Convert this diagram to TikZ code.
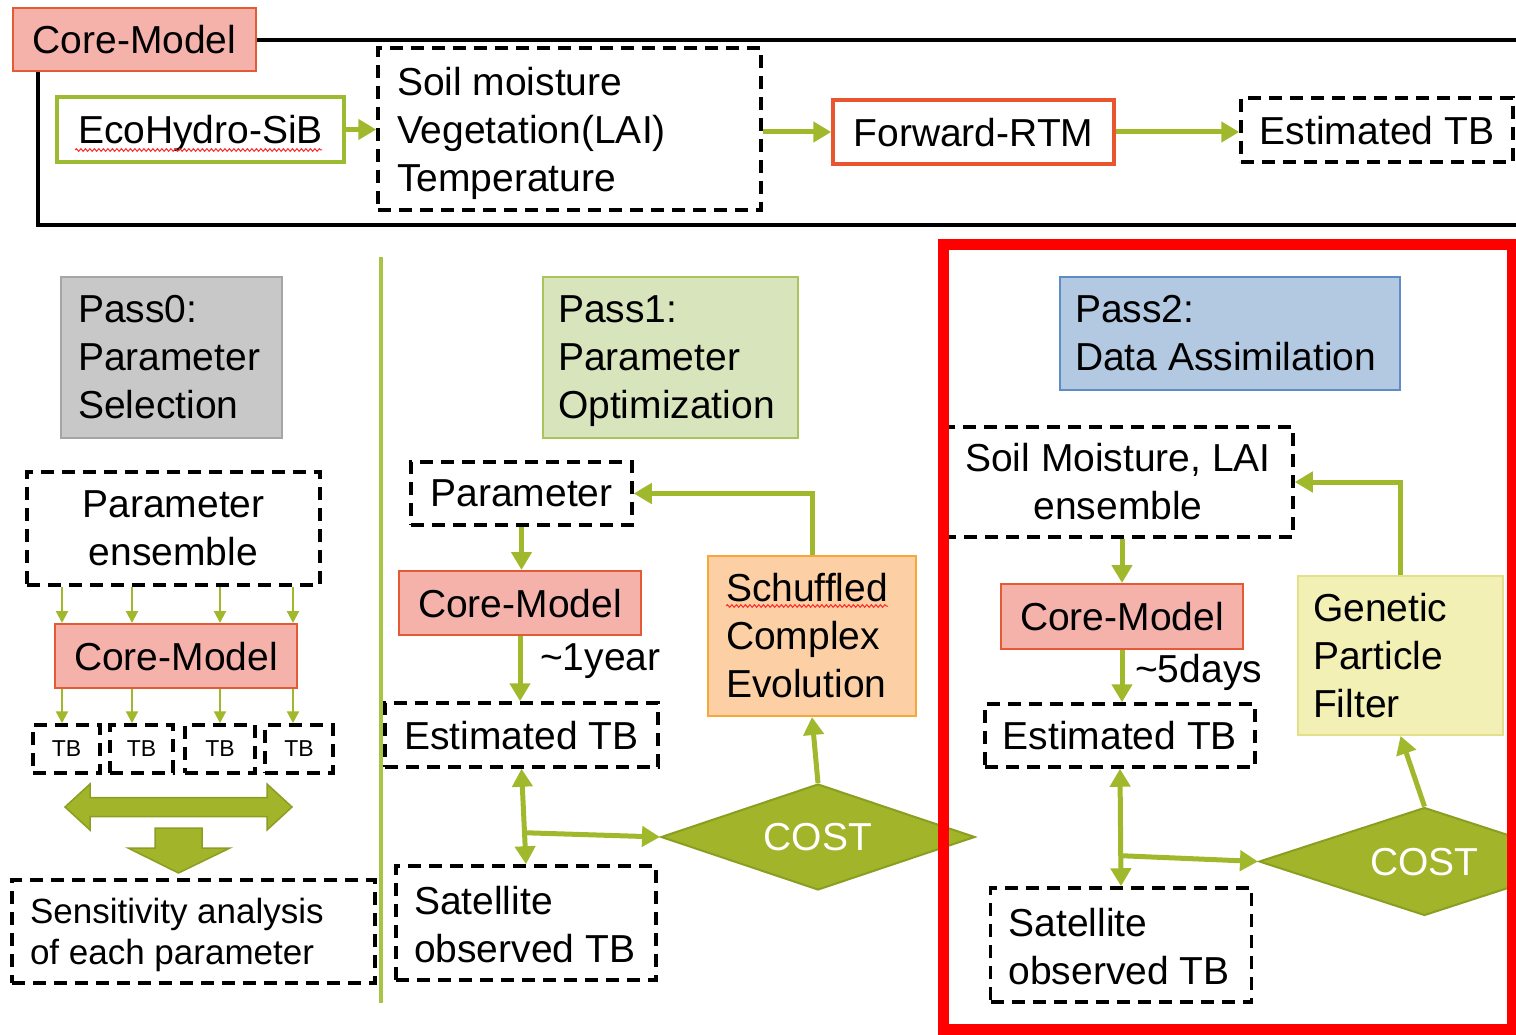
\documentclass[tikz,border=0pt]{standalone}
\usepackage{fontspec}
\setmainfont{Liberation Sans}
\usetikzlibrary{arrows.meta,shapes.geometric,calc,decorations.pathmorphing}

\definecolor{corefill}{HTML}{F5B2AB}
\definecolor{coreedge}{HTML}{E45A35}
\definecolor{ecoedge}{HTML}{9DBB30}
\definecolor{rtmedge}{HTML}{E8552F}
\definecolor{arrgreen}{HTML}{A0B92C}
\definecolor{divgreen}{HTML}{A8C444}
\definecolor{costfill}{HTML}{A1B42A}
\definecolor{costedge}{HTML}{8C9E22}
\definecolor{pzfill}{HTML}{C8C8C8}
\definecolor{pzedge}{HTML}{A5A5A5}
\definecolor{ponefill}{HTML}{D8E4BC}
\definecolor{poneedge}{HTML}{A9C45A}
\definecolor{scefill}{HTML}{FCD0A4}
\definecolor{sceedge}{HTML}{F7A73A}
\definecolor{ptwofill}{HTML}{B3C9E2}
\definecolor{ptwoedge}{HTML}{5E8CC8}
\definecolor{gpffill}{HTML}{F2F0B4}
\definecolor{gpfedge}{HTML}{E4E08A}
\definecolor{redframe}{HTML}{FF0000}

\newcommand\fsmain{\fontsize{39}{48}\selectfont}
\newcommand\fssens{\fontsize{35}{41}\selectfont}
\newcommand\fstb{\fontsize{23}{28}\selectfont}
% last line of a multi-line label: keep its descenders out of the centring
\newcommand\flatline[1]{\raisebox{0pt}[\height][0pt]{#1}}

\tikzset{
  base/.style={rectangle, inner sep=0pt, font=\fsmain, text=black},
  flat/.style={text depth=0pt},
  dbox/.style={base, draw=black, line width=3.5pt, dash pattern=on 13pt off 8pt},
  dboxs/.style={dbox, flat},
  corebox/.style={base, flat, draw=coreedge, fill=corefill, line width=2pt},
  ecobox/.style={base, flat, draw=ecoedge, fill=white, line width=3.5pt},
  rtmbox/.style={base, flat, draw=rtmedge, fill=white, line width=3.5pt},
  pzbox/.style={base, draw=pzedge, fill=pzfill, line width=2pt},
  ponebox/.style={base, draw=poneedge, fill=ponefill, line width=2pt},
  scebox/.style={base, draw=sceedge, fill=scefill, line width=2pt},
  ptwobox/.style={base, draw=ptwoedge, fill=ptwofill, line width=2pt},
  gpfbox/.style={base, draw=gpfedge, fill=gpffill, line width=2pt},
  costnode/.style={diamond, aspect=3, inner sep=0pt, flat, draw=costedge, fill=costfill, line width=2pt, font=\fsmain, text=white},
  lbl/.style={inner sep=0pt, flat, font=\fsmain, text=black},
  garrow/.style={draw=arrgreen, line width=5pt, -{Triangle[length=18pt,width=20pt]}},
  garrowboth/.style={draw=arrgreen, line width=5pt, {Triangle[length=18pt,width=20pt]}-{Triangle[length=18pt,width=20pt]}},
  thinarrow/.style={draw=arrgreen, line width=2.2pt, -{Triangle[length=12pt,width=12pt]}},
  fatarrow/.style={fill=costfill, draw=costedge, line width=1.5pt, line join=miter},
  frameline/.style={draw=black, line width=4pt},
  divider/.style={draw=divgreen, line width=3.5pt},
  wavy/.style={draw=red!85, line width=1pt, decorate, decoration={snake, amplitude=1.3pt, segment length=4.5pt}},
  redbox/.style={draw=redframe, line width=11pt},
}

\begin{document}
\begin{tikzpicture}[x=1pt,y=-1pt]
\useasboundingbox (0,0) rectangle (1516,1035);
\clip (0,0) rectangle (1516,1035);

% ---------- Core model strip ----------
\draw[frameline] (1530,40) -- (38,40) -- (38,225) -- (1530,225);
\node[corebox, minimum width=243pt, minimum height=63pt] (cmTop) at (134.5,39.5) {Core-Model};
\node[ecobox, minimum width=287pt, minimum height=65pt] (eco) at (200.5,129.5) {EcoHydro-SiB};
\draw[wavy] ($(eco.center)+(-125.5,20.5)$) -- ++(247,0);
\node[dbox, minimum width=383pt, minimum height=162pt, text width=345pt, align=flush left] (vars) at (569.5,129) {Soil moisture\\Vegetation(LAI)\\\flatline{Temperature}};
\node[rtmbox, minimum width=281pt, minimum height=64pt] (rtm) at (973.5,132) {Forward-RTM};
\node[dboxs, minimum width=272pt, minimum height=64pt] (etbTop) at (1377,130) {Estimated TB};

\draw[garrow] (eco.east) -- (eco.east -| vars.west);
\draw[garrow] (rtm.west -| vars.east) -- (rtm.west);
\draw[garrow] (rtm.east) -- (etbTop.west |- rtm.east);

% ---------- divider ----------
\draw[divider] (381,257) -- (381,1003);

% ---------- Pass 0 ----------
\node[pzbox, minimum width=221pt, minimum height=161pt, text width=187pt, align=flush left] (pass0) at (171.5,357.5) {Pass0:\\Parameter\\Selection};
\node[dbox, minimum width=293pt, minimum height=113pt, align=center] (pens) at (173.5,528.5) {Parameter\\ensemble};
\node[corebox, minimum width=242pt, minimum height=64pt] (cmA) at (176,656) {Core-Model};
\node[dboxs, font=\fstb, minimum width=67pt, minimum height=48pt] (tbA) at (66.5,749) {TB};
\node[dboxs, font=\fstb, minimum width=63pt, minimum height=48pt] (tbB) at (141.5,749) {TB};
\node[dboxs, font=\fstb, minimum width=70pt, minimum height=48pt] (tbC) at (220,749) {TB};
\node[dboxs, font=\fstb, minimum width=68pt, minimum height=48pt] (tbD) at (299,749) {TB};
\foreach \xx/\tb in {62/tbA,132/tbB,220/tbC,293/tbD}{
  \draw[thinarrow] (\xx,0 |- pens.south) -- (\xx,0 |- cmA.north);
  \draw[thinarrow] (\xx,0 |- cmA.south) -- (\xx,0 |- \tb.north);
}
% comparison arrow and result arrow
\draw[fatarrow] (65,807) -- (90,784) -- (90,797.5) -- (267,797.5) -- (267,784) -- (292,807)
  -- (267,830) -- (267,816.5) -- (90,816.5) -- (90,830) -- cycle;
\draw[fatarrow] (155,828) -- (202,828) -- (202,848) -- (230,848) -- (178.5,873)
  -- (128,848) -- (155,848) -- cycle;
\node[dbox, font=\fssens, minimum width=363pt, minimum height=103pt, text width=327pt, align=flush left] (sens) at (193.5,931.5) {Sensitivity analysis\\\flatline{of each parameter}};

% ---------- Pass 1 ----------
\node[ponebox, minimum width=255pt, minimum height=161pt, text width=225pt, align=flush left] (pass1) at (670.5,357.5) {Pass1:\\Parameter\\\flatline{Optimization}};
\node[dboxs, minimum width=221pt, minimum height=63pt] (parB) at (521.5,493.5) {Parameter};
\node[corebox, minimum width=242pt, minimum height=64pt] (cmB) at (520,603) {Core-Model};
\node[dboxs, minimum width=273pt, minimum height=64pt] (etbB) at (521.5,735) {Estimated TB};
\node[dbox, minimum width=260pt, minimum height=114pt, text width=224pt, align=flush left] (satB) at (526,923) {\raisebox{-3pt}{Satellite}\\\flatline{\raisebox{-3pt}{observed TB}}};
\node[costnode, minimum width=314pt, minimum height=106pt] (costA) at (818,837) {COST};
\node[scebox, minimum width=208pt, minimum height=160pt, text width=172pt, align=flush left] (sce) at (812,636) {Schuffled\\Complex\\Evolution};
\draw[wavy] ($(sce.center)+(-86,-30)$) -- ++(162,0);
\node[lbl, anchor=west] (yrB) at (540,657) {\textasciitilde1year};

\draw[garrow] (parB.south) -- (parB.south |- cmB.north);
\draw[garrow] (cmB.south) -- (cmB.south |- etbB.north);
\draw[garrowboth] (etbB.south) -- (satB.north);
\coordinate (jB) at ($(etbB.south)!0.67!(satB.north)$);
\draw[garrow] (jB) -- (costA.west);
\draw[garrow] (costA.north) -- (sce.south);
\draw[garrow] (sce.north) |- (parB.east);

% ---------- Pass 2 ----------
\node[ptwobox, minimum width=340pt, minimum height=113pt, text width=310pt, align=flush left] (pass2) at (1230,333.5) {Pass2:\\Data Assimilation};
\node[dbox, minimum width=350pt, minimum height=110pt, align=center] (sml) at (1118,482) {Soil Moisture, LAI\\ensemble};
\node[corebox, minimum width=242pt, minimum height=65pt] (cmC) at (1122,616.5) {Core-Model};
\node[dboxs, minimum width=270pt, minimum height=63pt] (etbC) at (1120,735.5) {Estimated TB};
\node[dbox, minimum width=261pt, minimum height=114pt, text width=225pt, align=flush left] (satC) at (1121,945) {\raisebox{-3pt}{Satellite}\\\flatline{\raisebox{-3pt}{observed TB}}};
\node[costnode, minimum width=331pt, minimum height=108pt] (costB) at (1424.5,861.5) {COST};
\node[gpfbox, minimum width=205pt, minimum height=159pt, text width=175pt, align=flush left] (gpf) at (1400.5,655.5) {Genetic\\Particle\\Filter};
\node[lbl, anchor=west] (dyC) at (1135,668) {\textasciitilde5days};

\draw[garrow] (cmC.north |- sml.south) -- (cmC.north);
\draw[garrow] (cmC.south) -- (cmC.south |- etbC.north);
\draw[garrowboth] (etbC.south) -- (satC.north);
\coordinate (jC) at ($(etbC.south)!0.74!(satC.north)$);
\draw[garrow] (jC) -- (costB.west);
\draw[garrow] (costB.north) -- (gpf.south);
\draw[garrow] (gpf.north) |- (sml.east);

% highlight frame around the data assimilation pass
\draw[redbox] (943,245) rectangle (1512,1029);
\end{tikzpicture}
\end{document}
